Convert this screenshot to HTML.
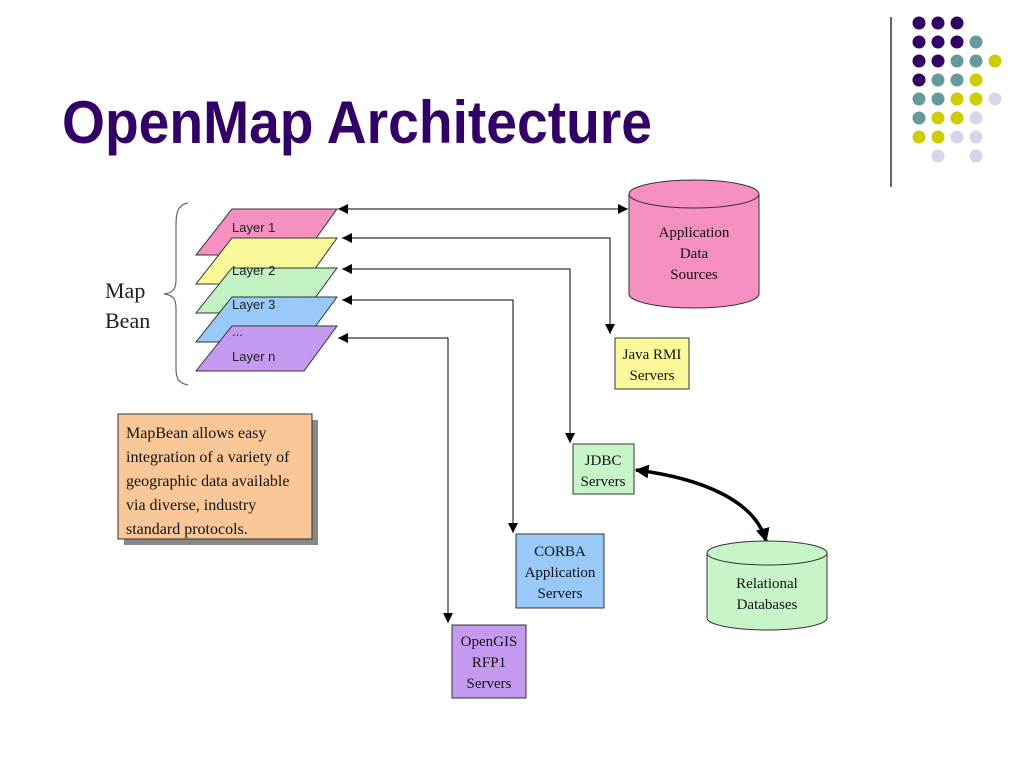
<!DOCTYPE html>
<html><head><meta charset="utf-8"><style>html,body{margin:0;padding:0;background:#fff}svg{display:block}</style></head>
<body>
<svg width="1024" height="768" viewBox="0 0 1024 768" xmlns="http://www.w3.org/2000/svg">
<defs>
<marker id="a" viewBox="0 0 10 10" refX="10" refY="5" markerWidth="10" markerHeight="10" markerUnits="userSpaceOnUse" orient="auto-start-reverse"><path d="M0,0L10,5L0,10z" fill="#000"/></marker>
<marker id="b" viewBox="0 0 10 10" refX="9" refY="5" markerWidth="14" markerHeight="14" markerUnits="userSpaceOnUse" orient="auto-start-reverse"><path d="M0,0L10,5L0,10z" fill="#000"/></marker>
</defs>
<text x="62" y="143" font-family="Liberation Sans, sans-serif" font-weight="bold" font-size="60" fill="#330066" textLength="590" lengthAdjust="spacingAndGlyphs">OpenMap Architecture</text>
<line x1="891" y1="17" x2="891" y2="187" stroke="#333" stroke-width="1.5"/>
<g>
<circle cx="919" cy="23" r="6.5" fill="#330066"/><circle cx="938" cy="23" r="6.5" fill="#330066"/><circle cx="957" cy="23" r="6.5" fill="#330066"/>
<circle cx="919" cy="42" r="6.5" fill="#330066"/><circle cx="938" cy="42" r="6.5" fill="#330066"/><circle cx="957" cy="42" r="6.5" fill="#330066"/><circle cx="976" cy="42" r="6.5" fill="#669999"/>
<circle cx="919" cy="61" r="6.5" fill="#330066"/><circle cx="938" cy="61" r="6.5" fill="#330066"/><circle cx="957" cy="61" r="6.5" fill="#669999"/><circle cx="976" cy="61" r="6.5" fill="#669999"/><circle cx="995" cy="61" r="6.5" fill="#cccc00"/>
<circle cx="919" cy="80" r="6.5" fill="#330066"/><circle cx="938" cy="80" r="6.5" fill="#669999"/><circle cx="957" cy="80" r="6.5" fill="#669999"/><circle cx="976" cy="80" r="6.5" fill="#cccc00"/>
<circle cx="919" cy="99" r="6.5" fill="#669999"/><circle cx="938" cy="99" r="6.5" fill="#669999"/><circle cx="957" cy="99" r="6.5" fill="#cccc00"/><circle cx="976" cy="99" r="6.5" fill="#cccc00"/><circle cx="995" cy="99" r="6.5" fill="#d6d6e8"/>
<circle cx="919" cy="118" r="6.5" fill="#669999"/><circle cx="938" cy="118" r="6.5" fill="#cccc00"/><circle cx="957" cy="118" r="6.5" fill="#cccc00"/><circle cx="976" cy="118" r="6.5" fill="#d6d6e8"/>
<circle cx="919" cy="137" r="6.5" fill="#cccc00"/><circle cx="938" cy="137" r="6.5" fill="#cccc00"/><circle cx="957" cy="137" r="6.5" fill="#d6d6e8"/><circle cx="976" cy="137" r="6.5" fill="#d6d6e8"/>
<circle cx="938" cy="156" r="6.5" fill="#d6d6e8"/><circle cx="976" cy="156" r="6.5" fill="#d6d6e8"/>
</g>
<!-- brace -->
<path d="M188,203 C178,205 176,212 176,225 L176,280 C176,290 172,293 164,294 C172,295 176,298 176,308 L176,368 C176,378 178,383 188,385" fill="none" stroke="#666" stroke-width="1.2"/>
<text font-family="Liberation Serif, serif" font-size="22" fill="#222"><tspan x="105" y="298">Map</tspan><tspan x="105" y="328">Bean</tspan></text>
<!-- layers -->
<g stroke="#333" stroke-width="1" font-family="Liberation Sans, sans-serif" font-size="13">
<polygon points="232,209 337,209 304,255 196,255" fill="#f590c0"/>
<polygon points="232,238 337,238 304,284 196,284" fill="#fafa9a"/>
<polygon points="232,268 337,268 304,313 196,313" fill="#c2f2c2"/>
<polygon points="232,297 337,297 304,342 196,342" fill="#99c9f8"/>
<polygon points="232,326 337,326 304,371 196,371" fill="#c49af0"/>
</g>
<g font-family="Liberation Sans, sans-serif" font-size="13" fill="#222">
<text x="232" y="232">Layer 1</text>
<text x="232" y="275">Layer 2</text>
<text x="232" y="309">Layer 3</text>
<text x="232" y="336">...</text>
<text x="232" y="361">Layer n</text>
</g>
<!-- connectors -->
<g stroke="#000" stroke-width="1" fill="none">
<line x1="338" y1="209" x2="628" y2="209" marker-start="url(#a)" marker-end="url(#a)"/>
<polyline points="342,238 610,238 610,334" marker-start="url(#a)" marker-end="url(#a)"/>
<polyline points="342,269 570,269 570,443" marker-start="url(#a)" marker-end="url(#a)"/>
<polyline points="342,300 513,300 513,533" marker-start="url(#a)" marker-end="url(#a)"/>
<polyline points="338,338 448,338 448,623" marker-start="url(#a)" marker-end="url(#a)"/>
<path d="M636,470 C700,478 755,500 766,541" stroke-width="3.5" marker-start="url(#b)" marker-end="url(#b)"/>
</g>
<!-- app data cylinder -->
<g stroke="#333" stroke-width="1">
<path d="M629,194 L629,294 A65,14 0 0 0 759,294 L759,194" fill="#f590c0"/>
<ellipse cx="694" cy="194" rx="65" ry="14" fill="#f590c0"/>
<path d="M707,553 L707,618 A60,12 0 0 0 827,618 L827,553" fill="#c8f5c8"/>
<ellipse cx="767" cy="553" rx="60" ry="12" fill="#c8f5c8"/>
</g>
<g font-family="Liberation Serif, serif" font-size="15" fill="#111" text-anchor="middle">
<text x="694" y="237">Application</text><text x="694" y="258">Data</text><text x="694" y="279">Sources</text>
<text x="767" y="588">Relational</text><text x="767" y="609">Databases</text>
</g>
<!-- boxes -->
<g stroke="#333" stroke-width="1">
<rect x="615" y="338" width="74" height="51" fill="#fafa9a"/>
<rect x="573" y="444" width="61" height="50" fill="#c8f5c8"/>
<rect x="516" y="534" width="88" height="74" fill="#99c9f8"/>
<rect x="452" y="625" width="74" height="73" fill="#c49af0"/>
</g>
<g font-family="Liberation Serif, serif" font-size="15" fill="#111" text-anchor="middle">
<text x="652" y="359">Java RMI</text><text x="652" y="380">Servers</text>
<text x="603" y="465">JDBC</text><text x="603" y="486">Servers</text>
<text x="560" y="556">CORBA</text><text x="560" y="577">Application</text><text x="560" y="598">Servers</text>
<text x="489" y="646">OpenGIS</text><text x="489" y="667">RFP1</text><text x="489" y="688">Servers</text>
</g>
<!-- note -->
<rect x="124" y="420" width="194" height="125" fill="#888"/>
<rect x="118" y="414" width="194" height="125" fill="#fac898" stroke="#333" stroke-width="1"/>
<g font-family="Liberation Serif, serif" font-size="16" fill="#111">
<text x="126" y="438">MapBean allows easy</text>
<text x="126" y="462">integration of a variety of</text>
<text x="126" y="486">geographic data available</text>
<text x="126" y="510">via diverse, industry</text>
<text x="126" y="534">standard protocols.</text>
</g>
</svg>
</body></html>
